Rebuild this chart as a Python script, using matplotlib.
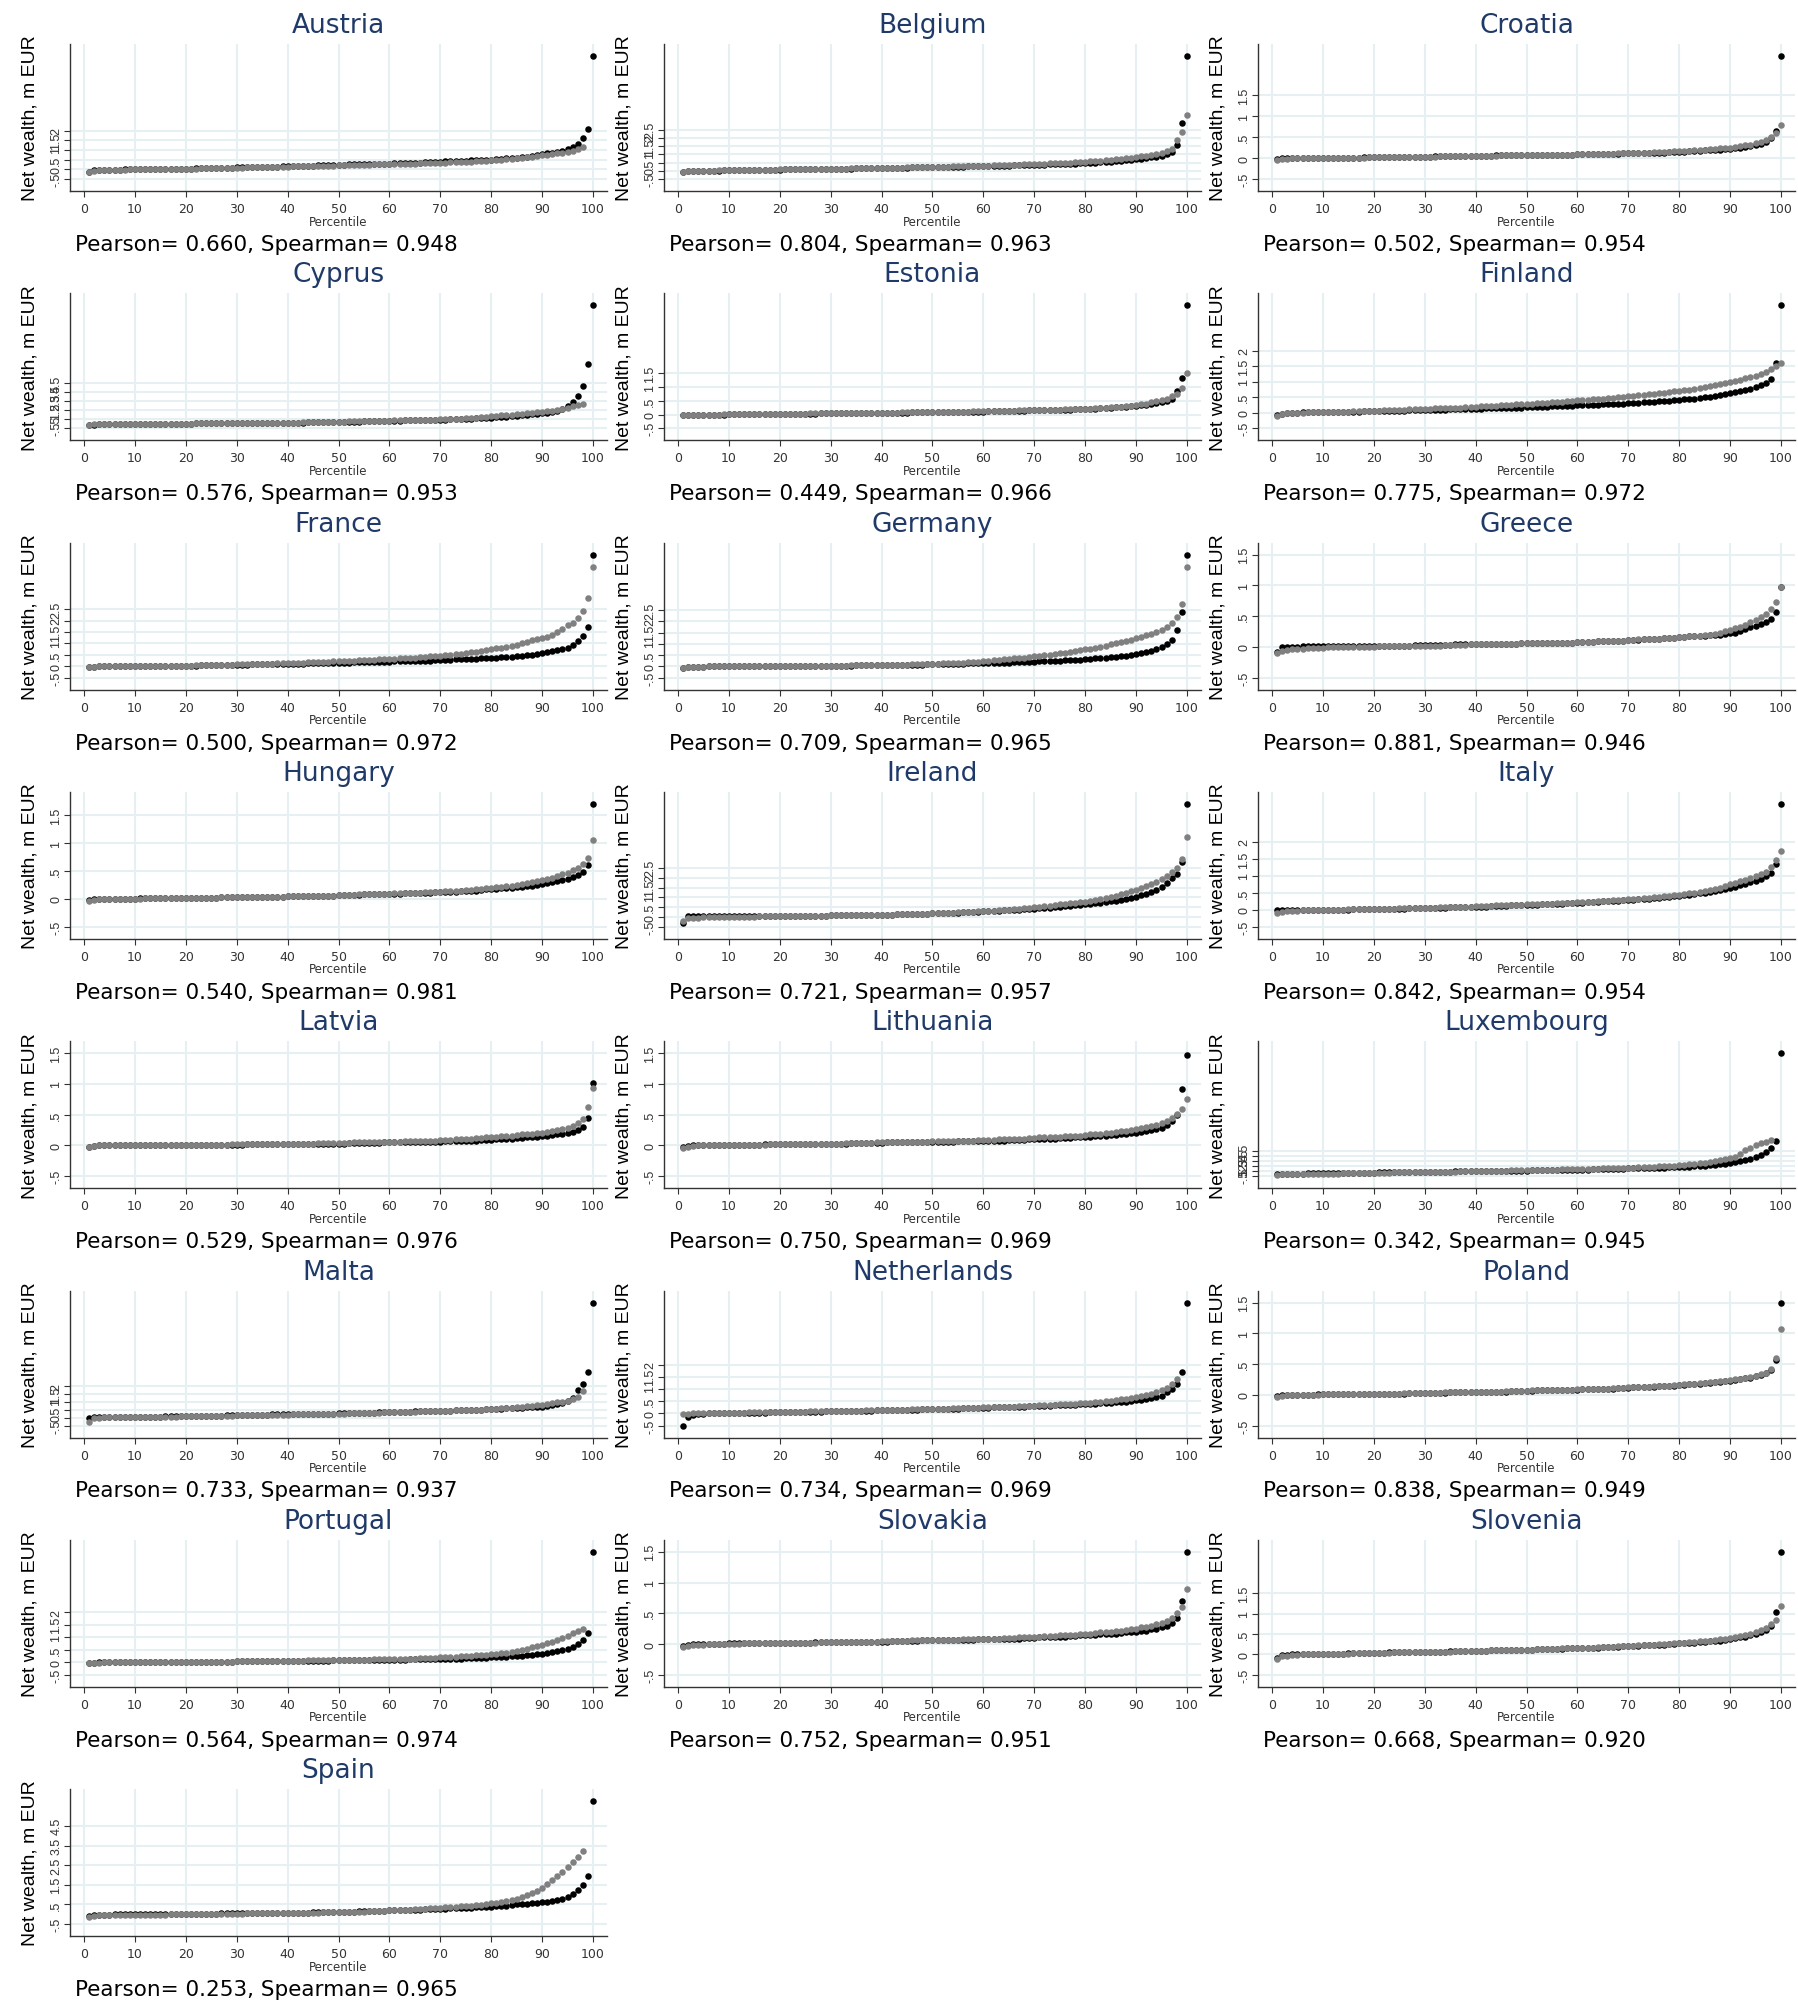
import numpy as np
import matplotlib
matplotlib.use("Agg")
import matplotlib.pyplot as plt

countries = ["Austria", "Belgium", "Croatia", "Cyprus", "Estonia", "Finland",
             "France", "Germany", "Greece", "Hungary", "Ireland", "Italy",
             "Latvia", "Lithuania", "Luxembourg", "Malta", "Netherlands", "Poland",
             "Portugal", "Slovakia", "Slovenia", "Spain"]
pearson = [0.660, 0.804, 0.502, 0.576, 0.449, 0.775, 0.500, 0.709, 0.881, 0.540, 0.721,
           0.842, 0.529, 0.750, 0.342, 0.733, 0.734, 0.838, 0.564, 0.752, 0.668, 0.253]
spearman = [0.948, 0.963, 0.954, 0.953, 0.966, 0.972, 0.972, 0.965, 0.946, 0.981, 0.957,
            0.954, 0.976, 0.969, 0.945, 0.937, 0.969, 0.949, 0.974, 0.951, 0.920, 0.965]
# y-axis label ticks: (first, last, step)
ytick_lo = [-0.5] * 22
ytick_hi = [2, 2.5, 1.5, 4.5, 1.5, 2, 2.5, 2.5, 1.5, 1.5, 2.5, 2, 1.5, 1.5, 4.5, 2, 2, 1.5, 2, 1.5, 1.5, 4.5]
ytick_step = [0.5, 0.5, 0.5, 1, 0.5, 0.5, 0.5, 0.5, 0.5, 0.5, 0.5, 0.5, 0.5, 0.5, 1, 0.5, 0.5, 0.5, 0.5, 0.5, 0.5, 1]

# Net wealth by percentile, in units of 0.01 m EUR (percentiles 1..100)
austria_black = [-15,-5,-3,-2,-2,-1,-1,0,0,0, 0,1,1,1,2,2,2,3,3,4, 4,5,5,6,6,7,8,8,9,10,
    10,11,11,12,12,13,14,14,15,16, 17,17,18,19,19,20,21,22,23,24, 24,25,25,26,26,27,28,28,29,30,
    31,31,32,33,34,35,36,37,38,40, 41,42,43,44,45,46,47,48,49,50, 52,54,56,58,60,63,66,69,73,78,
    82,86,91,97,104,115,133,162,210,585]
austria_gray = [-12,-7,-5,-4,-3,-2,-1,-1,0,0, 0,0,1,1,1,2,2,2,3,3, 4,4,5,5,6,6,7,7,8,9,
    9,10,10,11,11,12,12,13,13,14, 15,15,16,16,17,17,18,19,19,20, 21,21,22,22,23,24,25,25,26,27,
    27,28,29,29,30,31,32,32,33,34, 35,36,37,38,39,40,42,43,44,46, 48,50,52,54,56,59,62,65,68,72,
    75,78,82,86,90,96,104,116]
belgium_black = [-10,-4,-2,-1,0,0,1,1,2,2, 3,3,4,4,5,5,6,6,7,7, 8,8,9,9,10,10,11,11,12,12,
    13,13,14,14,15,15,16,16,17,18, 18,19,19,20,20,21,21,22,22,23, 23,24,24,25,26,26,27,27,28,29,
    29,30,31,31,32,33,34,34,35,36, 37,38,39,40,41,42,43,44,45,47, 48,50,52,54,56,58,60,63,66,70,
    74,78,82,87,93,100,115,160,290,700]
belgium_gray = [-8,-3,-1,0,0,1,1,2,2,3, 3,4,4,5,5,6,6,7,7,8, 8,9,9,10,10,11,11,12,12,13,
    13,14,14,15,15,16,16,17,17,18, 19,19,20,20,21,21,22,23,23,24, 25,25,26,27,27,28,29,30,30,31,
    32,33,34,35,36,37,38,39,40,41, 42,43,45,46,47,49,50,52,54,56, 58,60,62,64,67,70,73,76,80,84,
    88,93,98,104,110,118,130,190,235,340]
croatia_black = [-3,-1,0,0,0,0,0,0,0,0, 0,1,1,1,1,1,1,2,2,2, 2,2,2,2,3,3,3,3,3,3,
    3,4,4,4,4,4,4,5,5,5, 5,5,5,6,6,6,6,6,7,7, 7,7,7,7,8,8,8,8,8,9,
    9,9,9,9,10,10,10,10,11,11, 11,11,12,12,12,13,13,14,14,15, 15,16,16,17,18,18,19,20,21,22,
    23,25,27,29,31,34,39,47,64,243]
croatia_gray = [-5,-3,-2,-1,-1,0,0,0,0,0, 0,0,1,1,1,1,1,1,2,2, 2,2,2,2,2,3,3,3,3,3,
    3,3,4,4,4,4,4,4,5,5, 5,5,5,5,6,6,6,6,6,7, 7,7,7,7,8,8,8,8,8,9,
    9,9,9,10,10,10,10,11,11,12, 12,12,13,13,14,14,15,15,16,16, 17,17,18,19,20,21,22,23,24,25,
    26,28,30,32,35,38,43,50,59,79]
cyprus_black = [-15,-8,-5,-4,-3,-2,-2,-1,-1,0, 0,0,1,1,1,2,2,2,3,3, 3,4,4,4,5,5,5,6,6,6,
    7,7,8,8,9,9,10,11,11,12, 13,13,14,15,16,17,18,19,20,21, 22,23,24,25,26,27,29,30,32,34,
    35,36,37,38,39,40,42,43,45,47, 48,50,52,54,56,58,60,63,66,69, 72,75,78,82,88,93,99,105,111,118,
    125,133,144,163,200,245,305,420,663,1320]
cyprus_gray = [-12,-7,-5,-4,-3,-2,-2,-1,-1,0, 0,0,1,1,1,2,2,2,3,3, 3,4,4,4,5,5,5,6,6,6,
    7,7,8,8,9,9,10,11,11,12, 13,14,15,16,17,18,19,21,22,24, 25,26,27,28,29,30,32,33,34,36,
    37,38,39,41,42,43,45,46,48,50, 52,54,56,59,62,65,69,73,78,84, 89,94,98,102,107,112,117,123,130,137,
    140,148,155,166,178,193,204,219]
estonia_black = [0,0,0,0,0,0,0,0,0,1, 1,1,1,1,1,1,2,2,2,2, 2,2,3,3,3,3,3,4,4,4,
    4,4,5,5,5,5,5,6,6,6, 6,7,7,7,7,8,8,8,8,9, 9,9,9,10,10,10,10,11,11,11,
    12,12,12,13,13,13,14,14,15,15, 15,16,16,17,17,18,18,19,19,20, 21,22,23,24,25,26,27,28,30,32,
    34,36,38,41,45,50,58,85,132,398]
estonia_gray = [0,0,0,0,0,0,0,0,1,1, 1,1,1,1,1,2,2,2,2,2, 3,3,3,3,3,4,4,4,4,4,
    5,5,5,5,5,6,6,6,6,7, 7,7,7,8,8,8,8,9,9,10, 10,10,10,11,11,11,11,12,12,12,
    13,13,13,14,14,14,15,15,16,16, 16,17,17,18,18,19,19,20,20,21, 22,23,24,25,26,27,28,30,32,34,
    37,40,44,48,52,57,66,76,95,151]
finland_black = [-8,-3,-1,0,0,1,1,1,2,2, 2,3,3,3,4,4,4,5,5,5, 6,6,6,7,7,7,8,8,8,9,
    9,9,10,10,11,11,11,12,12,13, 13,14,14,15,15,16,16,17,17,18, 18,19,19,20,21,21,22,22,23,24,
    24,25,26,26,27,28,29,30,30,31, 32,33,34,35,36,37,38,39,40,42, 43,45,46,48,50,52,54,57,60,63,
    66,70,74,78,83,89,96,108,160,347]
finland_gray = [-10,-4,-2,-1,0,0,1,1,1,2, 2,3,3,4,4,5,5,6,6,7, 7,8,8,9,9,10,11,11,12,13,
    13,14,15,15,16,17,17,18,19,20, 21,21,22,23,24,25,26,27,28,29, 30,31,32,33,34,35,36,37,38,40,
    41,42,43,45,46,47,49,50,52,53, 55,56,58,60,62,63,65,67,69,71, 73,75,78,80,83,86,89,92,95,99,
    103,107,111,116,120,126,132,140,150,162]
france_black = [-4,-2,-1,0,0,0,0,0,0,0, 0,0,1,1,1,1,2,2,2,3, 3,3,4,4,4,5,5,6,6,7,
    7,7,8,8,9,9,10,10,11,11, 11,12,12,13,13,14,14,14,15,15, 16,16,17,17,18,18,19,19,20,20,
    21,21,22,22,23,24,24,25,26,27, 28,29,30,31,32,33,34,35,36,37, 38,39,41,42,44,46,48,51,54,58,
    62,66,70,75,82,92,110,135,173,491]
france_gray = [-4,-2,-1,0,0,0,0,0,0,0, 0,0,1,1,1,2,2,2,3,3, 3,4,4,5,5,6,6,7,7,8,
    8,9,9,10,11,11,12,13,13,14, 15,15,16,17,18,18,19,20,21,22, 23,24,25,26,27,28,29,30,31,32,
    33,35,36,37,38,40,41,43,45,47, 49,51,53,56,58,61,64,67,71,75, 78,81,85,89,95,101,108,115,120,125,
    130,138,150,165,180,192,212,245,299,435]
germany_black = [-8,-3,-2,-1,-1,0,0,0,0,0, 0,0,0,0,0,0,0,1,1,1, 1,1,1,1,1,2,2,2,2,2,
    3,3,3,3,4,4,4,5,5,5, 6,6,6,7,7,8,8,8,9,9, 10,10,11,11,12,12,13,13,14,14,
    15,15,16,17,17,18,19,19,20,21, 22,23,23,24,25,26,27,29,30,32, 33,35,36,38,40,42,44,47,50,54,
    58,63,68,75,84,97,118,160,240,496]
germany_gray = [-6,-3,-2,-1,-1,0,0,0,0,0, 0,0,0,0,0,0,1,1,1,1, 1,1,1,1,2,2,2,2,2,3,
    3,3,3,4,4,4,5,5,5,6, 6,7,7,8,8,9,9,10,11,11, 12,13,14,15,16,17,18,20,21,23,
    25,27,29,31,33,35,37,39,41,44, 46,49,51,54,57,60,63,67,71,75, 79,83,87,92,97,102,107,113,118,124,
    130,137,145,154,163,175,192,220,277,442]
greece_black = [-9,0,0,0,0,1,1,1,1,1, 1,1,1,1,1,1,1,1,1,2, 2,2,2,2,2,2,2,3,3,3,
    3,3,3,3,3,4,4,4,4,4, 4,4,5,5,5,5,5,5,6,6, 6,6,6,6,7,7,7,7,7,8,
    8,8,8,9,9,9,10,10,10,11, 11,11,12,12,13,13,14,14,15,16, 16,17,17,18,18,19,19,20,21,22,
    23,26,29,32,34,37,40,46,57,98]
greece_gray = [-10,-6,-5,-4,-3,-3,-2,-2,-2,-2, -1,-1,-1,-1,-1,0,0,0,0,0, 1,1,1,1,1,1,2,2,2,2,
    2,2,2,3,3,3,3,3,4,4, 4,4,4,5,5,5,5,5,6,6, 6,6,6,6,7,7,7,7,7,8,
    8,8,8,9,9,9,10,10,10,11, 11,12,12,12,13,13,14,14,15,16, 16,17,18,18,19,20,21,23,25,27,
    30,33,36,40,44,48,54,62,73,98]
hungary_black = [-2,0,0,0,0,0,0,0,0,0, 1,1,1,1,1,1,1,1,1,2, 2,2,2,2,2,2,3,3,3,3,
    3,3,3,4,4,4,4,4,4,5, 5,5,5,5,6,6,6,6,6,7, 7,7,7,7,8,8,8,8,9,9,
    9,9,10,10,10,11,11,11,12,12, 12,13,13,14,14,15,15,16,17,17, 18,19,19,20,21,22,23,24,25,27,
    28,30,32,34,36,39,43,48,60,170]
hungary_gray = [-3,-1,0,0,0,0,0,0,0,0, 0,1,1,1,1,1,1,1,1,2, 2,2,2,2,2,2,3,3,3,3,
    3,3,3,4,4,4,4,4,4,5, 5,5,5,5,6,6,6,6,6,7, 7,7,7,8,8,8,8,9,9,9,
    10,10,10,11,11,11,12,12,13,13, 14,14,15,15,16,16,17,18,19,20, 21,22,23,24,25,26,28,30,32,34,
    36,38,41,44,47,51,56,62,74,106]
ireland_black = [-30,4,3,3,3,3,3,3,3,3, 3,3,3,4,4,4,4,4,4,4, 5,5,5,5,6,6,6,7,7,8,
    8,8,9,9,10,10,11,11,12,12, 13,13,14,14,15,15,16,17,18,19, 19,20,21,22,23,24,25,27,28,30,
    31,32,33,34,35,36,38,39,41,43, 44,46,48,50,52,54,56,59,62,65, 68,70,73,76,80,83,87,92,97,104,
    111,119,128,138,152,175,197,221,279,575]
ireland_gray = [-18,-6,-4,-3,-2,-1,-1,0,0,1, 1,1,2,2,2,3,3,3,3,4, 4,4,5,5,5,6,6,7,7,8,
    8,8,9,9,10,10,11,11,12,12, 13,13,14,15,15,16,17,17,18,19, 20,21,22,23,24,25,26,27,29,30,
    32,33,35,36,38,40,42,44,47,50, 52,55,58,61,64,67,70,73,76,79, 83,87,92,97,103,109,116,123,131,140,
    148,157,167,179,192,209,230,250,294,408]
italy_black = [0,1,1,1,1,1,1,1,1,1, 1,1,1,1,1,2,2,2,2,2, 3,3,3,4,4,4,5,5,5,6,
    6,6,7,7,8,8,8,9,9,10, 10,10,11,11,12,12,13,13,14,14, 15,15,16,16,17,18,18,19,20,21,
    21,22,23,24,25,25,26,27,28,29, 30,31,32,33,34,35,37,38,40,42, 43,45,47,49,51,53,55,58,61,65,
    68,72,76,81,86,92,100,110,136,312]
italy_gray = [-10,-6,-4,-3,-2,-1,-1,0,0,0, 1,1,1,1,2,2,2,3,3,3, 3,4,4,4,5,5,5,6,6,7,
    7,7,8,8,9,9,10,10,10,11, 11,12,12,13,13,14,14,15,15,16, 16,17,17,18,18,19,20,20,21,22,
    22,23,24,25,26,27,28,29,30,31, 32,33,34,35,37,38,40,41,43,45, 47,49,51,53,56,58,61,65,70,76,
    80,84,89,94,100,106,112,125,148,174]
latvia_black = [-2,-1,0,0,0,0,0,0,0,0, 0,0,0,0,0,0,1,1,1,1, 1,1,1,1,1,1,1,1,1,1,
    1,2,2,2,2,2,2,2,2,2, 2,2,3,3,3,3,3,3,3,3, 3,4,4,4,4,4,4,4,5,5,
    5,5,5,5,5,6,6,6,6,6, 7,7,7,7,8,8,8,9,9,9, 10,10,11,11,12,12,13,13,14,15,
    16,17,18,19,20,22,25,30,45,102]
latvia_gray = [-2,-1,0,0,0,0,0,0,0,0, 0,0,0,0,0,1,1,1,1,1, 1,1,1,1,1,1,1,1,2,2,
    2,2,2,2,2,2,2,3,3,3, 3,3,3,3,3,4,4,4,4,4, 4,4,5,5,5,5,5,6,6,6,
    6,6,7,7,7,7,8,8,8,9, 9,9,10,10,11,11,12,12,13,13, 14,15,15,16,17,18,18,19,20,21,
    22,24,25,27,29,32,36,43,63,93]
lithuania_black = [-3,-1,0,0,0,0,0,1,1,1, 1,1,1,1,1,1,2,2,2,2, 2,2,2,2,2,3,3,3,3,3,
    3,3,3,4,4,4,4,4,4,4, 5,5,5,5,5,5,5,6,6,6, 6,6,6,6,7,7,7,7,7,8,
    8,8,8,8,9,9,9,9,10,10, 10,11,11,11,12,12,12,13,13,14, 14,15,15,16,17,17,18,19,20,21,
    22,23,25,27,29,34,40,50,92,147]
lithuania_gray = [-4,-2,-1,0,0,0,0,0,1,1, 1,1,1,1,1,1,1,2,2,2, 2,2,2,2,2,3,3,3,3,3,
    3,3,4,4,4,4,4,4,5,5, 5,5,5,5,6,6,6,6,6,7, 7,7,7,7,8,8,8,8,9,9,
    9,9,10,10,10,11,11,11,12,12, 13,13,13,14,14,15,15,16,16,17, 18,18,19,20,21,22,23,24,25,26,
    28,30,32,34,37,40,45,51,60,76]
luxembourg_black = [-3,-1,0,1,2,3,4,5,6,8, 9,10,11,12,13,15,16,18,20,23, 24,26,27,28,29,30,32,33,35,37,
    38,39,41,42,43,45,46,47,49,50, 51,52,53,55,56,57,58,60,61,63, 64,65,67,68,70,71,73,75,77,79,
    80,82,84,86,88,90,93,96,99,103, 105,108,111,114,117,120,122,125,127,130,
    134,138,143,148,157,165,175,185,195,210, 230,250,263,290,323,370,437,517,650,2390]
luxembourg_gray = [-30,-15,-10,-7,-5,-4,-3,-2,-1,0, 1,2,3,5,6,8,10,12,14,17, 19,21,23,25,26,27,28,29,30,31,
    33,35,37,39,41,43,45,46,48,50, 52,54,56,58,60,62,64,66,68,70, 72,74,76,78,80,82,84,86,88,90,
    93,95,98,100,103,106,109,112,115,118, 122,126,130,134,138,143,148,155,162,170,
    178,186,195,205,215,230,245,262,285,310, 337,383,470,517,560,600,637,677]
malta_black = [0,1,2,2,3,3,4,4,5,5, 5,6,6,7,7,8,8,9,9,10, 10,11,11,12,12,13,13,14,15,16,
    16,17,17,18,18,19,20,20,21,22, 22,23,23,24,24,25,25,26,26,27, 28,28,29,30,30,31,32,33,34,35,
    36,37,37,38,39,39,40,41,42,43, 44,45,46,47,48,49,50,51,52,54, 55,57,58,60,62,64,66,67,68,70,
    75,79,86,94,105,124,172,215,289,730]
malta_gray = [-25,-1,0,1,1,2,2,3,3,4, 4,4,5,5,6,6,7,7,8,8, 9,9,10,10,11,11,12,12,13,14,
    14,15,15,16,16,17,17,18,19,19, 20,20,21,21,22,22,23,24,24,25, 26,27,27,28,29,30,31,32,33,34,
    35,35,36,37,38,39,40,41,42,43, 44,45,46,47,48,49,50,51,52,54, 56,58,60,62,67,70,73,76,79,83,
    87,91,96,101,107,117,130,168]
netherlands_black = [-50,-16,-5,-2,-1,0,0,0,1,1, 1,2,2,2,3,3,3,4,4,5, 5,5,6,6,6,7,7,7,8,8,
    8,9,9,10,10,10,11,11,12,12, 13,13,13,14,14,15,15,16,16,17, 17,18,18,19,19,20,20,21,22,22,
    23,24,24,25,26,26,27,28,29,29, 30,31,32,33,34,34,35,36,37,38, 39,40,41,42,43,45,47,48,50,53,
    56,60,63,67,72,86,98,120,170,455]
netherlands_gray = [-3,-1,0,0,1,1,1,2,2,2, 3,3,3,4,4,4,5,5,5,6, 6,6,7,7,7,8,8,8,9,9,
    9,10,10,10,11,11,12,12,12,13, 13,14,14,15,15,16,16,17,17,18, 18,19,19,20,20,21,22,22,23,24,
    24,25,26,26,27,28,29,30,31,32, 33,34,35,36,37,38,39,40,41,42, 44,45,47,49,51,54,57,60,64,67,
    70,75,80,86,94,104,119,142]
poland_black = [-2,0,0,0,0,0,0,0,1,1, 1,1,1,1,1,1,1,2,2,2, 2,2,2,2,2,2,3,3,3,3,
    3,3,3,3,4,4,4,4,4,4, 5,5,5,5,5,5,6,6,6,6, 6,7,7,7,7,7,8,8,8,8,
    9,9,9,9,10,10,10,11,11,11, 12,12,12,13,13,14,14,15,15,16, 16,17,17,18,19,19,20,21,22,23,
    24,25,27,28,30,32,35,40,57,150]
poland_gray = [-4,-2,-1,-1,0,0,0,0,0,1, 1,1,1,1,1,1,1,2,2,2, 2,2,2,2,2,3,3,3,3,3,
    3,3,3,4,4,4,4,4,4,5, 5,5,5,5,5,6,6,6,6,6, 7,7,7,7,7,8,8,8,8,9,
    9,9,9,10,10,10,11,11,11,12, 12,12,13,13,14,14,15,15,16,16, 17,17,18,19,19,20,21,22,23,24,
    25,26,28,29,31,33,36,42,59,107]
portugal_black = [-3,-1,0,0,0,0,0,0,0,0, 0,0,0,1,1,1,1,1,1,2, 2,2,2,2,3,3,3,3,3,4,
    4,4,4,4,5,5,5,5,6,6, 6,6,6,7,7,7,7,7,8,8, 8,8,9,9,9,9,10,10,10,11,
    11,11,11,12,12,12,12,13,13,13, 14,14,15,15,16,16,17,18,19,20, 21,22,23,24,26,27,29,30,32,34,
    37,40,44,48,53,61,72,88,118,441]
portugal_gray = [-4,-2,-1,0,0,0,0,0,0,0, 0,0,0,1,1,1,1,1,1,1, 2,2,2,2,2,3,3,3,3,4,
    4,4,4,5,5,5,5,6,6,7, 7,7,7,8,8,8,8,9,9,9, 10,10,10,11,11,11,12,12,12,13,
    13,14,14,15,15,16,17,18,19,20, 21,22,23,24,25,26,28,29,31,33, 35,37,39,42,46,50,54,59,64,69,
    76,82,89,97,106,116,124,132]
slovakia_black = [-3,-1,0,0,0,0,0,0,0,1, 1,1,1,1,1,1,1,1,2,2, 2,2,2,2,2,2,3,3,3,3,
    3,3,3,3,4,4,4,4,4,4, 4,5,5,5,5,5,5,6,6,6, 6,6,6,7,7,7,7,7,8,8,
    8,8,8,9,9,9,9,10,10,10, 11,11,11,12,12,12,13,13,14,14, 15,15,16,16,17,17,18,19,19,20,
    21,22,24,25,27,30,34,42,70,150]
slovakia_gray = [-5,-3,-2,-1,-1,0,0,0,0,0, 0,0,1,1,1,1,1,1,1,1, 2,2,2,2,2,2,2,3,3,3,
    3,3,3,3,4,4,4,4,4,5, 5,5,5,5,5,6,6,6,6,6, 7,7,7,7,7,8,8,8,8,9,
    9,9,9,10,10,10,11,11,11,12, 12,13,13,13,14,14,15,15,16,17, 17,18,19,19,20,21,22,23,24,25,
    27,28,30,32,35,38,43,50,60,90]
slovenia_black = [-8,-2,-1,0,0,0,1,1,1,1, 2,2,2,2,3,3,3,3,4,4, 4,4,5,5,5,5,6,6,6,6,
    7,7,7,7,8,8,8,8,9,9, 9,9,10,10,10,11,11,11,12,12, 12,13,13,13,14,14,14,15,15,16,
    16,16,17,17,18,18,19,19,20,20, 21,21,22,22,23,24,24,25,26,27, 27,28,29,30,31,32,33,34,36,38,
    40,42,44,47,50,54,60,70,103,252]
slovenia_gray = [-10,-5,-3,-2,-1,0,0,0,1,1, 1,2,2,2,2,3,3,3,3,4, 4,4,4,5,5,5,5,6,6,6,
    6,7,7,7,7,8,8,8,9,9, 9,9,10,10,10,11,11,11,12,12, 12,13,13,13,14,14,15,15,15,16,
    16,17,17,18,18,19,19,20,20,21, 21,22,23,23,24,25,25,26,27,28, 29,30,31,32,33,34,35,37,39,41,
    43,45,48,51,55,60,66,74,84,119]
spain_black = [-10,-5,-3,-2,-2,-1,-1,-1,0,0, 0,0,0,1,1,1,1,1,2,2, 2,2,3,3,3,3,4,4,4,5,
    5,5,6,6,6,7,7,7,8,8, 8,9,9,9,10,10,11,11,12,13, 13,14,14,15,15,16,17,18,19,20,
    20,21,22,23,23,24,25,26,27,28, 29,30,31,32,33,34,35,36,37,38, 40,42,44,46,50,52,54,56,58,60,
    64,67,72,79,90,105,123,147,197,576]
spain_gray = [-14,-8,-6,-5,-5,-4,-4,-4,-4,-4, -3,-3,-3,-2,-2,-2,-1,-1,0,0, 0,0,1,1,1,2,2,2,3,3,
    3,4,4,4,5,5,5,6,6,6, 7,7,8,8,9,9,10,10,11,11, 12,12,13,14,14,15,16,17,18,20,
    21,22,23,24,25,27,28,30,31,33, 35,37,38,40,42,44,47,49,52,55, 58,62,66,71,79,88,98,107,117,134,
    154,174,195,215,241,268,294,321]

black_series = [austria_black, belgium_black, croatia_black, cyprus_black, estonia_black,
                finland_black, france_black, germany_black, greece_black, hungary_black,
                ireland_black, italy_black, latvia_black, lithuania_black, luxembourg_black,
                malta_black, netherlands_black, poland_black, portugal_black, slovakia_black,
                slovenia_black, spain_black]
gray_series = [austria_gray, belgium_gray, croatia_gray, cyprus_gray, estonia_gray,
               finland_gray, france_gray, germany_gray, greece_gray, hungary_gray,
               ireland_gray, italy_gray, latvia_gray, lithuania_gray, luxembourg_gray,
               malta_gray, netherlands_gray, poland_gray, portugal_gray, slovakia_gray,
               slovenia_gray, spain_gray]


def stata_fmt(v):
    if abs(v) < 1e-9:
        return "0"
    s = "%g" % v
    if s.startswith("0."):
        s = s[1:]
    elif s.startswith("-0."):
        s = "-" + s[2:]
    return s


W, H = 1798, 2008
fig = plt.figure(figsize=(W / 100, H / 100), dpi=100)
fig.patch.set_facecolor("white")

col_left = [70, 664, 1258]
ax_w = 537
ax_h = 147
row_step = 249.3
grid_col = "#e6eff1"
axis_col = "#333333"
title_col = "#1f3a68"
HFONT = ["DejaVu Sans"]
VFONT = ["Liberation Sans", "DejaVu Sans"]

for i, name in enumerate(countries):
    r, c = divmod(i, 3)
    left = col_left[c]
    bottom = 192 + row_step * r
    top = bottom - ax_h
    ax = fig.add_axes([left / W, 1 - bottom / H, ax_w / W, ax_h / H])

    blk = np.array(black_series[i], dtype=float) / 100.0
    gry = np.array(gray_series[i], dtype=float) / 100.0
    xb = np.arange(1, len(blk) + 1)
    xg = np.arange(1, len(gry) + 1)

    ticks = np.arange(ytick_lo[i], ytick_hi[i] + 1e-9, ytick_step[i])
    lo = min(ytick_lo[i], blk.min(), gry.min())
    hi = max(ytick_hi[i], blk.max(), gry.max())
    pad = (hi - lo) * 12.0 / 123.0
    ax.set_ylim(lo - pad, hi + pad)
    ax.set_xlim(-2.75, 102.75)

    ax.set_axisbelow(True)
    ax.set_xticks(np.arange(0, 101, 10))
    ax.set_yticks(ticks)
    ax.grid(True, color=grid_col, linewidth=1.5)

    ax.scatter(xb, blk, s=22, color="black", linewidths=0, zorder=3)
    ax.scatter(xg, gry, s=22, color="#808080", linewidths=0, zorder=4)

    for sp in ["top", "right"]:
        ax.spines[sp].set_visible(False)
    for sp in ["left", "bottom"]:
        ax.spines[sp].set_color(axis_col)
        ax.spines[sp].set_linewidth(1.0)

    ax.tick_params(axis="x", length=4, width=0.8, color=axis_col, pad=4,
                   labelsize=9, labelcolor="#333333")
    ax.tick_params(axis="y", length=4, width=0.8, color=axis_col, pad=1.5,
                   labelsize=9, labelcolor="#333333")
    ax.set_xticklabels([str(t) for t in range(0, 101, 10)], fontfamily=HFONT)
    ax.set_yticklabels([stata_fmt(t) for t in ticks], rotation=90, va="center",
                       fontfamily=VFONT)

    cx = (left + ax_w / 2) / W
    fig.text(cx, 1 - (top - 19) / H, name, ha="center", va="center",
             fontsize=19, color=title_col, fontfamily=HFONT)
    fig.text(cx, 1 - (bottom + 30) / H, "Percentile", ha="center", va="center",
             fontsize=8.5, color="#333333", fontfamily=HFONT)
    fig.text((left - 40) / W, 1 - (top + ax_h / 2) / H, "Net wealth, m EUR",
             rotation=90, ha="center", va="center", fontsize=14, color="black",
             fontfamily=VFONT)
    fig.text((left + 5) / W, 1 - (bottom + 53) / H,
             "Pearson= %.3f, Spearman= %.3f" % (pearson[i], spearman[i]),
             ha="left", va="center", fontsize=15.5, color="black", fontfamily=HFONT)

fig.savefig("out.png", dpi=100, facecolor="white")
